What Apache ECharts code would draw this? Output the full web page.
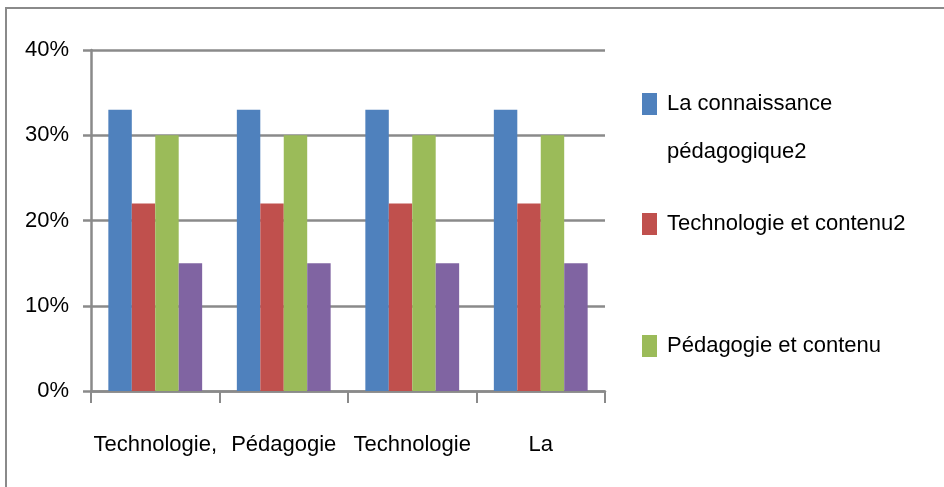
<!DOCTYPE html>
<html>
<head>
<meta charset="utf-8">
<script src="https://cdn.jsdelivr.net/npm/echarts@6/dist/echarts.min.js"></script>
<style>
  html, body { margin: 0; padding: 0; background: #fff; }
  #chart { width: 944px; height: 487px; }
</style>
</head>
<body>
<div id="chart"></div>
<script>
// donnees
const categories = ['Technologie,', 'Pédagogie', 'Technologie', 'La'];
const yTicks = [0, 10, 20, 30, 40];
const connaissancePeda = [33, 33, 33, 33];
const techContenu = [22, 22, 22, 22];
const pedaContenu = [30, 30, 30, 30];
const serie4 = [15, 15, 15, 15];

const FONT = '"Liberation Sans", Arial, sans-serif';
const GRIS = '#8a8a8a';

const legendeItem = (nom, top, fmt) => ({
  orient: 'vertical',
  left: 642,
  top: top,
  padding: 0,
  itemWidth: 15,
  itemHeight: 22,
  itemGap: 0,
  icon: 'rect',
  selectedMode: false,
  data: [nom],
  formatter: fmt,
  textStyle: { fontFamily: FONT, fontSize: 22, color: '#000', lineHeight: fmt ? 48 : 22, padding: [0, 0, 0, 5] }
});

const getOption = () => {
  return {
    animation: false,
    backgroundColor: '#fff',
    graphic: [
      {
        type: 'rect',
        shape: { x: 6, y: 8, width: 1200, height: 1000 },
        style: { fill: 'none', stroke: GRIS, lineWidth: 2 },
        silent: true
      }
    ],
    grid: { left: 91, right: 339, top: 50, bottom: 96 },
    legend: [
      legendeItem('La connaissance pédagogique2', 93 - 61, () => '\nLa connaissance\npédagogique2'),
      legendeItem('Technologie et contenu2', 213),
      legendeItem('Pédagogie et contenu', 335)
    ],
    xAxis: {
      type: 'category',
      data: categories,
      axisLine: { lineStyle: { color: GRIS, width: 2.5 } },
      axisTick: { show: true, length: 12, lineStyle: { color: GRIS, width: 2 } },
      axisLabel: { interval: 0, margin: 43, fontFamily: FONT, fontSize: 22, color: '#000' }
    },
    yAxis: {
      type: 'value',
      min: yTicks[0],
      max: yTicks[yTicks.length - 1],
      interval: 10,
      axisLine: { show: true, lineStyle: { color: GRIS, width: 2.5 } },
      axisTick: { show: true, length: 8, lineStyle: { color: GRIS, width: 2.5 } },
      splitLine: { lineStyle: { color: GRIS, width: 2.5 } },
      axisLabel: {
        margin: 22,
        fontFamily: FONT,
        fontSize: 22,
        color: '#000',
        formatter: v => v + '%'
      }
    },
    series: [
      { name: 'La connaissance pédagogique2', type: 'bar', data: connaissancePeda, itemStyle: { color: '#4F81BD' }, barGap: '0%', barCategoryGap: '27%' },
      { name: 'Technologie et contenu2', type: 'bar', data: techContenu, itemStyle: { color: '#C0504D' } },
      { name: 'Pédagogie et contenu', type: 'bar', data: pedaContenu, itemStyle: { color: '#9BBB59' } },
      { name: 'Série 4', type: 'bar', data: serie4, itemStyle: { color: '#8064A2' } }
    ]
  };
};

window.addEventListener('load', () => {
  const chart = echarts.init(document.getElementById('chart'), null, { renderer: 'canvas' });
  chart.setOption(getOption());
});
</script>
</body>
</html>
